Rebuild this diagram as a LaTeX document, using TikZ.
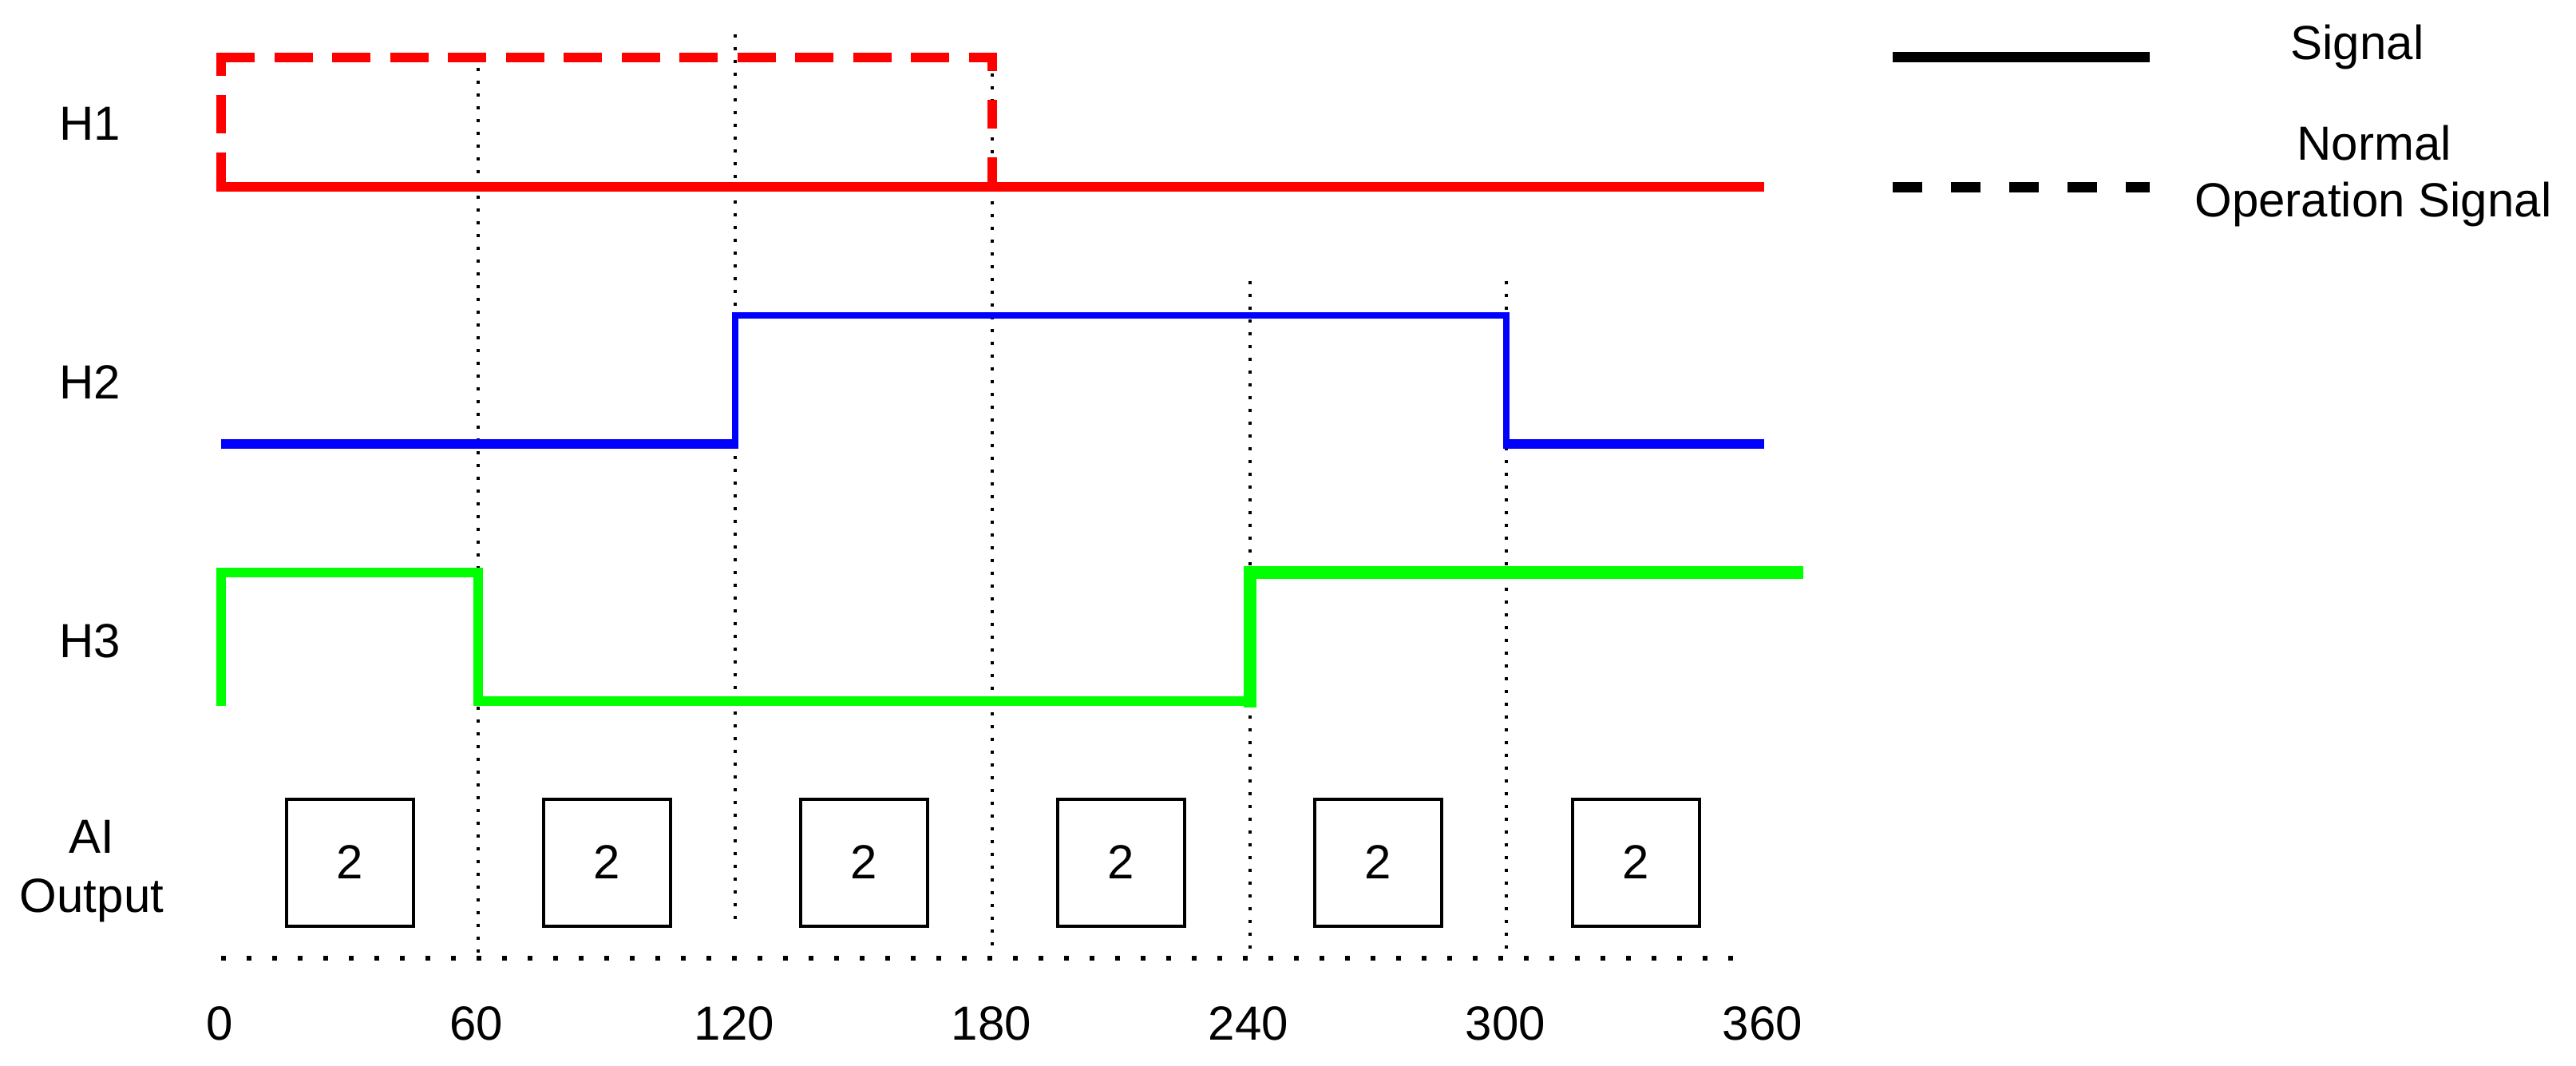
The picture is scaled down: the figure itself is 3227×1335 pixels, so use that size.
\documentclass[tikz,border=0pt]{standalone}
\usepackage{fontspec}
\setmainfont{Liberation Sans}
\definecolor{sigred}{RGB}{255,0,0}
\definecolor{sigblue}{RGB}{0,0,255}
\definecolor{siggreen}{RGB}{0,255,0}
\begin{document}
\begin{tikzpicture}[x=1pt,y=-1pt,
  lbl/.style={font=\fontsize{60}{73}\selectfont, inner sep=0pt, anchor=base},
  sig/.style={line width=12pt, line join=miter, line cap=butt},
  thin sig/.style={line width=8pt, line join=miter, line cap=butt},
  thick sig/.style={line width=16pt, line join=miter, line cap=butt},
  gridl/.style={line width=4pt, dash pattern=on 4pt off 12pt},
  axisl/.style={line width=6pt, dash pattern=on 6pt off 26pt},
  obox/.style={draw, line width=4pt, minimum size=159pt, inner sep=0pt,
    font=\fontsize{60}{73}\selectfont}]
\useasboundingbox (0,0) rectangle (3227,1335);

% vertical dotted grid lines
\draw[gridl] (599,85) -- (599,1200);
\draw[gridl] (921,43) -- (921,1160);
\draw[gridl] (1243,76) -- (1243,1195);
\draw[gridl] (1566,352) -- (1566,1195);
\draw[gridl] (1887,352) -- (1887,1195);

% bottom dotted axis
\draw[axisl] (277,1200) -- (2188,1200);

% H1
\draw[sig, sigred] (271,234) -- (2210,234);
\draw[sig, sigred, dash pattern=on 48pt off 24.5pt] (271,72) -- (1249,72);
\draw[sig, sigred, dash pattern=on 48pt off 24pt, dash phase=25pt] (277,72) -- (277,234);
\draw[sig, sigred, dash pattern=on 36pt off 36pt, dash phase=19pt] (1243,72) -- (1243,234);

% H2
\draw[sig, sigblue] (277,556) -- (925,556);
\draw[thin sig, sigblue] (921,560) -- (921,395) -- (1887,395) -- (1887,560);
\draw[sig, sigblue] (1883,556) -- (2210,556);

% H3
\draw[sig, siggreen] (277,884) -- (277,717) -- (599,717) -- (599,878) -- (1566,878);
\draw[thick sig, siggreen] (1566,886) -- (1566,717) -- (2259,717);

% row labels
\node[lbl] (h1) at (113,175) {H1};
\node[lbl] (h2) at (113,499) {H2};
\node[lbl] (h3) at (113,823) {H3};
\node[lbl] (ai) at (115,1068) {AI};
\node[lbl] (out) at (115,1142) {Output};

% AI output boxes
\node[obox] (b1) at (438,1080) {2};
\node[obox] (b2) at (760,1080) {2};
\node[obox] (b3) at (1082,1080) {2};
\node[obox] (b4) at (1404,1080) {2};
\node[obox] (b5) at (1726,1080) {2};
\node[obox] (b6) at (2049,1080) {2};

% time labels
\node[lbl] (t0) at (275,1302) {0};
\node[lbl] (t1) at (597,1302) {60};
\node[lbl] (t2) at (920,1302) {120};
\node[lbl] (t3) at (1242,1302) {180};
\node[lbl] (t4) at (1564,1302) {240};
\node[lbl] (t5) at (1886,1302) {300};
\node[lbl] (t6) at (2208,1302) {360};

% legend
\coordinate (ls1) at (2371,72);
\coordinate (le1) at (2693,72);
\coordinate (ls2) at (2371,234);
\coordinate (le2) at (2693,234);
\draw[line width=13pt] (ls1) -- (le1);
\draw[line width=13pt, dash pattern=on 37pt off 36pt] (ls2) -- (le2);
\node[lbl] (lg1) at (2953,75) {Signal};
\node[lbl] (lg2) at (2974,200) {Normal};
\node[lbl] (lg3) at (2973,271) {Operation Signal};
\end{tikzpicture}
\end{document}
